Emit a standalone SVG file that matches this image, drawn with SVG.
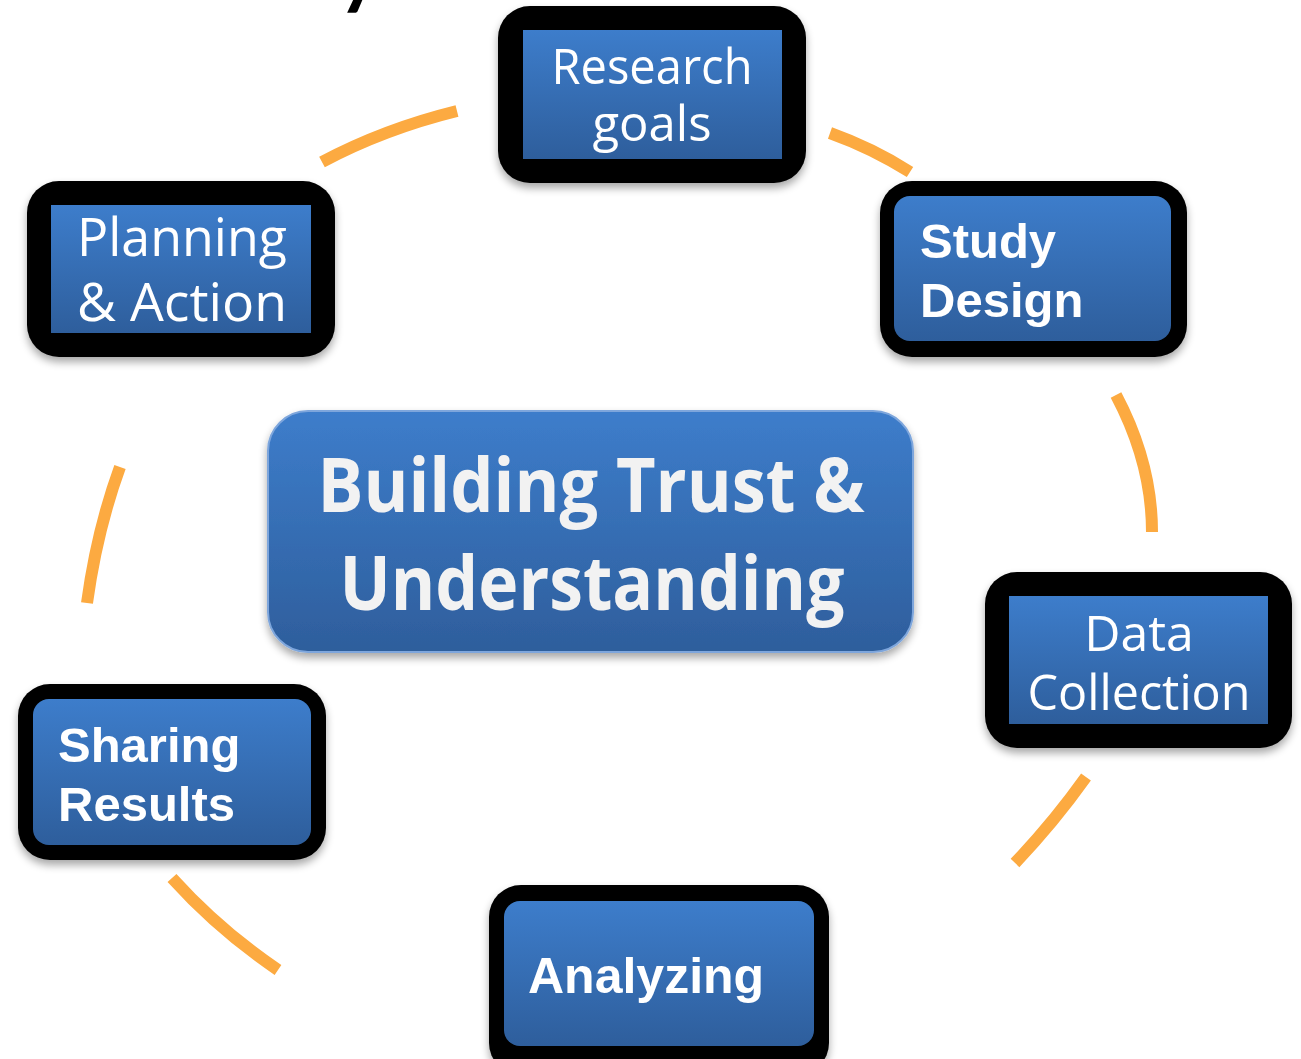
<svg xmlns="http://www.w3.org/2000/svg" width="1301" height="1059" viewBox="0 0 1301 1059">
<defs>
<linearGradient id="blue" x1="0" y1="0" x2="0" y2="1">
<stop offset="0" stop-color="#3d7dcb"/>
<stop offset="1" stop-color="#2e5e9c"/>
</linearGradient>
<filter id="sh" x="-10%" y="-10%" width="120%" height="130%">
<feGaussianBlur in="SourceAlpha" stdDeviation="4"/>
<feOffset dx="0" dy="5" result="b"/>
<feComponentTransfer><feFuncA type="linear" slope="0.35"/></feComponentTransfer>
<feMerge><feMergeNode/><feMergeNode in="SourceGraphic"/></feMerge>
</filter>
</defs>
<style>
.outer{fill:#000;filter:url(#sh)}
.inner{fill:url(#blue)}
.lt{font-family:"Open Sans","Liberation Sans",sans-serif;fill:#fff;text-anchor:middle}
.bd{font-family:"Liberation Sans",Arial,sans-serif;font-weight:bold;fill:#fff}
.ctr{font-family:"Open Sans","Liberation Sans",sans-serif;font-weight:bold;fill:#f2f2f2;text-anchor:middle;font-size:75px}
.arc{fill:none;stroke:#fcaa41;stroke-width:12;stroke-linecap:butt}
</style>
<text x="338" y="-1" font-family="Lato, sans-serif" font-weight="bold" font-size="80" fill="#000">y</text>
<g id="connectors">
<path class="arc" d="M322,162 Q384,129 457,111"/>
<path class="arc" d="M830,133 Q872,148 910,172"/>
<path class="arc" d="M1116,395 Q1152,463 1152,532"/>
<path class="arc" d="M1086,777 Q1054,822 1015,863"/>
<path class="arc" d="M172,878 Q219,930 278,970"/>
<path class="arc" d="M120,467 Q97,530 87,603"/>
</g>
<g id="center">
<rect x="268" y="411" width="645" height="241" rx="40" fill="url(#blue)" stroke="#7ea6dc" stroke-width="2" filter="url(#sh)"/>
<text class="ctr" x="591" y="512" textLength="547" lengthAdjust="spacingAndGlyphs">Building Trust &amp;</text>
<text class="ctr" x="592" y="610" textLength="505" lengthAdjust="spacingAndGlyphs">Understanding</text>
</g>
<g id="research-goals">
<rect class="outer" x="498" y="6" width="308" height="177" rx="32"/>
<rect class="inner" x="523" y="30" width="259" height="129"/>
<text class="lt" x="652" y="84" font-size="49" textLength="201" lengthAdjust="spacingAndGlyphs">Research</text>
<text class="lt" x="652" y="141" font-size="49">goals</text>
</g>
<g id="study-design">
<rect class="outer" x="880" y="181" width="307" height="176" rx="32"/>
<rect class="inner" x="894" y="196" width="277" height="145" rx="16"/>
<text class="bd" x="920" y="258" font-size="49">Study</text>
<text class="bd" x="920" y="317" font-size="49">Design</text>
</g>
<g id="planning-action">
<rect class="outer" x="27" y="181" width="308" height="176" rx="32"/>
<rect class="inner" x="51" y="205" width="260" height="128"/>
<text class="lt" x="182" y="256" font-size="53" textLength="210" lengthAdjust="spacingAndGlyphs">Planning</text>
<text class="lt" x="182" y="321" font-size="53" textLength="210" lengthAdjust="spacingAndGlyphs">&amp; Action</text>
</g>
<g id="data-collection">
<rect class="outer" x="985" y="572" width="307" height="176" rx="32"/>
<rect class="inner" x="1009" y="596" width="259" height="128"/>
<text class="lt" x="1139" y="651" font-size="50">Data</text>
<text class="lt" x="1139" y="710" font-size="50" textLength="223" lengthAdjust="spacingAndGlyphs">Collection</text>
</g>
<g id="sharing-results">
<rect class="outer" x="18" y="684" width="308" height="176" rx="32"/>
<rect class="inner" x="33" y="699" width="278" height="146" rx="16"/>
<text class="bd" x="58" y="762" font-size="49">Sharing</text>
<text class="bd" x="58" y="821" font-size="49">Results</text>
</g>
<g id="analyzing">
<rect class="outer" x="489" y="885" width="340" height="190" rx="32"/>
<rect class="inner" x="504" y="901" width="310" height="145" rx="16"/>
<text class="bd" x="528" y="993" font-size="50">Analyzing</text>
</g>
</svg>
